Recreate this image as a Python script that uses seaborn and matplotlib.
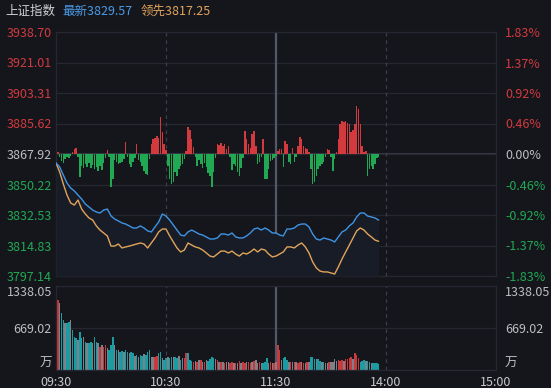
import numpy as np
import pandas as pd
import matplotlib
matplotlib.use("Agg")
import matplotlib.pyplot as plt
import matplotlib.transforms as mtrans
import seaborn as sns

# ---------------- data ----------------
title_name = "上证指数"
latest_label = "最新3829.57"
lead_label = "领先3817.25"
pre_close = 3867.92
price_ticks = [3797.14, 3814.83, 3832.53, 3850.22, 3867.92, 3885.62, 3903.31, 3921.01, 3938.70]
pct_labels = ["-1.83%", "-1.37%", "-0.92%", "-0.46%", "0.00%", "0.46%", "0.92%", "1.37%", "1.83%"]
vol_ticks = [0, 669.02, 1338.05]
vol_labels = ["万", "669.02", "1338.05"]
time_ticks = [0, 60, 120, 180, 240]
time_labels = ["09:30", "10:30", "11:30", "14:00", "15:00"]

# price line (最新), sampled every 2 minutes from 09:30
price_2min = [
    3862.7, 3860.4, 3855.7, 3851.1, 3848.2, 3846.5, 3844.1, 3841.8, 3838.9, 3837.2,
    3835.4, 3834.3, 3833.7, 3835.4, 3836.0, 3832.0, 3830.2, 3829.1, 3827.9, 3827.3,
    3826.2, 3825.0, 3825.0, 3826.2, 3825.0, 3823.3, 3822.7, 3825.6, 3828.5, 3833.1,
    3831.9, 3829.6, 3826.7, 3823.8, 3820.9, 3820.4, 3822.7, 3823.8, 3822.7, 3821.5,
    3820.9, 3819.8, 3818.6, 3818.6, 3819.2, 3821.5, 3821.5, 3820.9, 3822.1, 3819.8,
    3819.2, 3819.2, 3820.4, 3822.1, 3824.4, 3825.0, 3823.8, 3825.0, 3823.8, 3822.1,
    3822.1, 3820.9, 3820.4, 3824.4, 3824.4, 3825.0, 3826.7, 3827.3, 3827.3, 3825.6,
    3821.5, 3818.6, 3818.0, 3819.2, 3818.6, 3818.0, 3816.9, 3819.8, 3822.7, 3823.8,
    3826.2, 3827.9, 3831.4, 3833.7, 3833.7, 3831.9, 3831.4, 3830.8, 3829.57,
]
# leading line (领先), sampled every 2 minutes
lead_2min = [
    3862.7, 3857.5, 3850.5, 3844.1, 3839.5, 3838.3, 3841.2, 3836.0, 3833.1, 3830.8,
    3829.6, 3826.2, 3823.8, 3822.1, 3820.4, 3814.5, 3814.5, 3815.7, 3813.4, 3814.0,
    3814.5, 3815.1, 3815.7, 3816.3, 3815.7, 3813.4, 3816.3, 3819.2, 3822.7, 3824.4,
    3824.4, 3820.4, 3816.9, 3813.4, 3811.1, 3812.2, 3816.3, 3815.1, 3814.0, 3813.4,
    3812.2, 3810.5, 3808.7, 3808.2, 3809.9, 3811.6, 3811.6, 3810.5, 3811.6, 3809.9,
    3808.7, 3810.5, 3809.9, 3811.1, 3812.8, 3811.1, 3812.8, 3812.2, 3809.9, 3808.2,
    3808.7, 3809.9, 3811.1, 3814.0, 3814.0, 3813.4, 3815.1, 3816.3, 3814.0, 3810.5,
    3805.3, 3801.8, 3800.0, 3799.5, 3799.5, 3798.9, 3798.3, 3802.4, 3807.0, 3811.1,
    3815.1, 3819.2, 3823.3, 3825.0, 3823.8, 3821.5, 3819.8, 3818.0, 3817.25,
]
# red / green strength bars, one per minute (indicator units)
strength = [
    2, 2, -3, -7, -9, -5, -3, -4, -2, 2,
    5, 6, -3, -23, -12, -14, -10, -13, -9, -14,
    -11, -15, -13, -17, -12, -16, -9, -4, 4, -3,
    -33, -25, -6, -8, -10, -9, -8, -5, 12, -3,
    -10, -13, -8, -4, 10, -6, -8, -12, -17, -20,
    -21, -5, 10, 15, 16, 18, 16, 37, 22, 10,
    4, -12, -25, -30, -28, -18, -22, -15, -12, -10,
    -5, 3, 27, 24, 15, 7, -3, -12, -6, -10,
    -14, -9, -13, -19, -22, -33, -18, -4, 10, 9,
    11, 8, 10, 5, 8, -3, -16, -10, -12, -18,
    -22, -14, -4, 23, 15, 10, 6, 20, 23, 8,
    -10, -8, -3, 15, -25, -25, -15, -7, -6, -4,
    -2, 3, 5, 5, -13, 13, 10, -8, -10, 6,
    -8, -3, 8, 17, 15, 8, 6, 5, 2, -15,
    -30, -28, -22, -15, -12, -10, -8, -3, 5, 4,
    -3, -17, -5, 2, 15, 30, 33, 32, 33, 31,
    30, 22, 24, 30, 48, 45, 30, 8, 2, 3,
    -22, -15, -12, -15, -10, -4, -3,
]
strength_range = 122
# volume per minute (万)
volume = [
    1338.05, 1115, 1062, 903, 797, 743, 754, 770, 797, 637,
    531, 504, 478, 611, 504, 531, 451, 425, 425, 451,
    425, 531, 451, 425, 372, 398, 372, 398, 345, 319,
    398, 531, 398, 319, 319, 292, 308, 292, 319, 292,
    266, 292, 266, 223, 239, 212, 239, 223, 255, 239,
    292, 319, 212, 202, 212, 223, 266, 292, 186, 159,
    186, 202, 186, 212, 212, 202, 186, 223, 159, 186,
    186, 266, 276, 159, 149, 133, 143, 133, 159, 159,
    133, 133, 159, 149, 181, 202, 191, 170, 159, 133,
    122, 133, 117, 127, 133, 117, 122, 117, 106, 117,
    149, 117, 127, 117, 122, 133, 117, 127, 138, 159,
    117, 122, 112, 117, 127, 186, 117, 122, 112, 117,
    133, 398, 319, 159, 186, 212, 159, 133, 127, 133,
    122, 127, 117, 127, 122, 117, 112, 122, 133, 212,
    202, 181, 170, 170, 138, 127, 133, 117, 106, 127,
    133, 127, 170, 143, 154, 138, 159, 143, 170, 181,
    191, 202, 181, 276, 239, 186, 133, 149, 159, 143,
    149, 122, 117, 106, 117, 106, 101,
]
vol_dir = list(
    "dufddfddfd" "ddfddfdfdd" "fddfufuufd" "ddfdfddfdd" "fddfdfddfd"
    "ddffuuddfd" "dfddfddfdf" "uudddufufu" "fufddddfuf" "ufuffuufuf"
    "ufuufuufuf" "fufdddfufu" "fuufdddfuf" "ufuufufufd" "ddfddfdffu"
    "ffffuuufuu" "uufuuudddf" "ddfdddd"
)

# ---------------- style ----------------
bg = "#15161c"
grid_c = "#252731"
red = "#d23a3e"
green = "#20a853"
blue = "#3f94e4"
orange = "#e2a45a"
txt_grey = "#bdbdc2"

sns.set_theme(style="dark", rc={
    "axes.facecolor": bg, "figure.facecolor": bg, "savefig.facecolor": bg,
    "axes.edgecolor": grid_c, "grid.color": grid_c,
})
plt.rcParams["font.family"] = ["Noto Sans CJK SC", "DejaVu Sans"]

W, H = 551, 388
fig = plt.figure(figsize=(W / 100, H / 100), dpi=100)
L, R = 56 / W, 496 / W
ax = fig.add_axes([L, 1 - 276 / H, R - L, (276 - 32) / H])
axv = fig.add_axes([L, 1 - 370 / H, R - L, (370 - 286) / H])
ax_s = ax.twinx()
ax.set_zorder(ax_s.get_zorder() + 1)
ax.patch.set_visible(False)

n = len(strength)
minutes = np.arange(n)
vlines = [(60, (0, (3, 3)), "#3a3d4a", 0.9), (120, "-", "#545766", 1.6),
          (180, (0, (3, 3)), "#3a3d4a", 0.9)]

# ---- strength bars + grid (lower layer) ----
ax_s.set_ylim(-strength_range, strength_range)
grid_pos = np.linspace(-strength_range, strength_range, 9)
ax_s.set_yticks(grid_pos)
ax_s.set_yticklabels(pct_labels)
ax_s.grid(True, axis="y", color=grid_c, lw=0.9)
ax_s.grid(False, axis="x")
ax_s.axhline(0, color="#383b48", lw=1.4, zorder=0.5)
for xv, ls, c, lw in vlines:
    ax_s.axvline(xv, ls=ls, color=c, lw=lw, zorder=0.6)
ax_s.bar(minutes, strength, width=0.85, bottom=0,
         color=[red if s > 0 else green for s in strength], linewidth=0, zorder=2)
ax_s.tick_params(axis="y", length=0, pad=6.5, labelsize=9)
for lab, v in zip(ax_s.get_yticklabels(), grid_pos):
    lab.set_color(red if v > 0 else (green if v < 0 else txt_grey))
    lab.set_horizontalalignment("left")
for sp in ax_s.spines.values():
    sp.set_color(grid_c)
    sp.set_linewidth(0.9)
ax_s.set_ylabel("")

# ---- price lines (upper layer) ----
df = pd.DataFrame({
    "minute": np.arange(0, 2 * len(price_2min), 2),
    "price": price_2min,
    "lead": lead_2min,
})
ax.fill_between(df["minute"], df["price"], price_ticks[0], color="#181c27", lw=0, zorder=1)
sns.lineplot(data=df, x="minute", y="lead", color=orange, lw=1.0, ax=ax, zorder=3)
sns.lineplot(data=df, x="minute", y="price", color=blue, lw=1.0, ax=ax, zorder=4)
ax.set_xlim(0, 240)
ax.set_ylim(price_ticks[0], price_ticks[-1])
ax.set_yticks(price_ticks)
ax.set_yticklabels([f"{v:.2f}" for v in price_ticks])
ax.tick_params(axis="y", length=0, pad=3, labelsize=9)
for lab, v in zip(ax.get_yticklabels(), price_ticks):
    lab.set_color(red if v > pre_close + 0.01 else (green if v < pre_close - 0.01 else txt_grey))
ax.set_xticks([])
ax.set_xlabel("")
ax.set_ylabel("")
for sp in ax.spines.values():
    sp.set_visible(False)
ax.grid(False)

# ---- volume panel ----
vol_cols = {"u": "#c8393d", "d": "#1b9ca2", "f": "#808089"}
axv.bar(minutes, volume, width=0.85, color=[vol_cols[d] for d in vol_dir], linewidth=0, zorder=2)
axv.set_xlim(0, 240)
axv.set_ylim(0, vol_ticks[-1])
axv.set_yticks(vol_ticks)
axv.set_yticklabels(vol_labels)
axv.tick_params(axis="y", length=0, pad=3, labelsize=9, labelright=True, labelcolor=txt_grey)
axv.grid(True, axis="y", color=grid_c, lw=0.9)
axv.grid(False, axis="x")
for xv, ls, c, lw in vlines:
    axv.axvline(xv, ls=ls, color=c, lw=lw, zorder=1)
axv.set_xticks(time_ticks)
axv.set_xticklabels(time_labels)
axv.tick_params(axis="x", length=0, pad=4, labelsize=9, labelcolor="#c8c8cc")
ticks = axv.yaxis.get_major_ticks()
for t in ticks:
    t.label2.set_horizontalalignment("left")
    t.label2.set_transform(t.label2.get_transform()
                           + mtrans.ScaledTranslation(3.5 / 72, 0, fig.dpi_scale_trans))
for lab in (ticks[-1].label1, ticks[-1].label2):
    lab.set_verticalalignment("top")
for lab in (ticks[0].label1, ticks[0].label2):
    lab.set_verticalalignment("bottom")
for sp in axv.spines.values():
    sp.set_color(grid_c)
    sp.set_linewidth(0.9)

# ---- header ----
fig.text(5 / W, 1 - 11 / H, title_name, color="#d0d0d4", fontsize=9, va="center", ha="left")
fig.text(62 / W, 1 - 11 / H, latest_label, color="#4a9be6", fontsize=9, va="center", ha="left")
fig.text(141 / W, 1 - 11 / H, lead_label, color="#e2a45a", fontsize=9, va="center", ha="left")

fig.savefig("out.png", dpi=100, facecolor=bg)
